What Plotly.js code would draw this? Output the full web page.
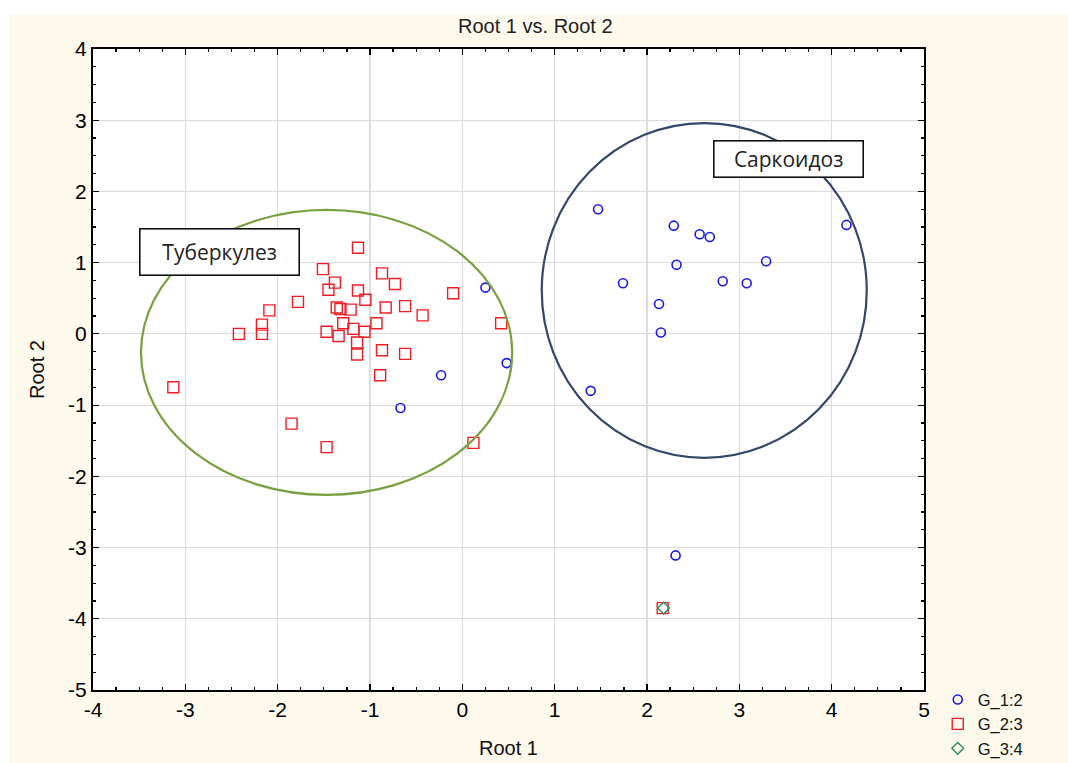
<!DOCTYPE html>
<html>
<head>
<meta charset="utf-8">
<script src="https://cdn.plot.ly/plotly-3.0.1.min.js"></script>
<style>
html,body{margin:0;padding:0;background:#ffffff;}
#chart{position:absolute;left:9px;top:15px;width:1059px;height:748px;}
</style>
</head>
<body>
<div id="chart"></div>
<script>
// Group G_1:2 (blue circles)
const g1x = [0.25, 0.48, -0.23, -0.67, 1.47, 2.29, 2.57, 2.68, 4.16, 2.32, 3.29, 1.74, 2.82, 3.08, 2.13, 2.15, 1.39, 2.31];
const g1y = [0.65, -0.41, -0.58, -1.04, 1.75, 1.52, 1.40, 1.36, 1.53, 0.97, 1.02, 0.71, 0.74, 0.71, 0.42, 0.02, -0.80, -3.11];
// Group G_2:3 (red squares)
const g2x = [-1.13, -1.51, -0.87, -1.38, -1.45, -0.73, -1.13, -0.10, -1.78, -1.05, -2.09, -1.36, -1.32, -1.21, -0.83, -0.62, -0.43, -2.17, -1.29, -0.93, 0.42, -2.42, -2.17, -1.47, -1.34, -1.18, -1.06, -1.14, -1.14, -0.87, -0.62, -0.89, -3.13, -1.85, -1.47, 0.12, 2.17];
const g2y = [1.21, 0.91, 0.85, 0.72, 0.62, 0.70, 0.61, 0.57, 0.45, 0.48, 0.33, 0.37, 0.35, 0.34, 0.37, 0.39, 0.26, 0.13, 0.15, 0.15, 0.15, 0.00, 0.00, 0.03, -0.03, 0.07, 0.03, -0.12, -0.29, -0.23, -0.28, -0.58, -0.75, -1.26, -1.59, -1.53, -3.85];
// Group G_3:4 (green diamond)
const g3x = [2.18];
const g3y = [-3.85];

// Group ellipses: [x0, x1, y0, y1]
const tbEllipse = [-3.48, 0.54, -2.26, 1.74];
const skEllipse = [0.86, 4.38, -1.74, 2.96];

const labelText = ['Туберкулез', 'Саркоидоз'];
const labelX = [-2.63, 3.53];
const labelY = [1.15, 2.46];

const seriesNames = ['G_1:2', 'G_2:3', 'G_3:4'];
const xTickVals = [-4, -3, -2, -1, 0, 1, 2, 3, 4, 5];
const yTickVals = [-5, -4, -3, -2, -1, 0, 1, 2, 3, 4];
const xTickText = xTickVals.map(String);
const yTickText = yTickVals.map(String);

const narrow = '"Liberation Sans Narrow", "Liberation Sans", Arial, sans-serif';
const tickFont = {family: narrow, size: 21, color: '#000'};

const traces = [
  {x: g1x, y: g1y, name: seriesNames[0], type: 'scatter', mode: 'markers',
   marker: {symbol: 'circle-open', size: 9, color: '#1a1ae6', line: {width: 1.6}}},
  {x: g2x, y: g2y, name: seriesNames[1], type: 'scatter', mode: 'markers',
   marker: {symbol: 'square-open', size: 11, color: '#f01c24', line: {width: 1.4}}},
  {x: g3x, y: g3y, name: seriesNames[2], type: 'scatter', mode: 'markers',
   marker: {symbol: 'diamond-open', size: 9, color: '#2e8b57', line: {width: 1.4}}}
];

const axisCommon = {
  showline: true, linecolor: '#000', linewidth: 2, mirror: 'ticks',
  ticks: 'inside', ticklen: 6, tickwidth: 1.2, tickcolor: '#000',
  showgrid: true, gridcolor: '#dcdcdc', gridwidth: 1.2,
  zeroline: false, tickmode: 'array', tickfont: tickFont, automargin: false,
  minor: {ticks: 'inside', ticklen: 3, tickcolor: '#000', dtick: 0.25, showgrid: false}
};

const layout = {
  width: 1059, height: 748,
  paper_bgcolor: '#fdf9ed', plot_bgcolor: '#ffffff',
  margin: {l: 84, r: 144, t: 34, b: 73},
  title: {text: 'Root 1 vs. Root 2', x: 0.497, xref: 'container', xanchor: 'center', y: 0.994, yref: 'container', yanchor: 'top',
          font: {family: narrow, size: 20, color: '#222'}},
  xaxis: Object.assign({}, axisCommon, {range: [-4, 5], tickvals: xTickVals, ticktext: xTickText,
    title: {text: 'Root 1', standoff: 21, font: {family: narrow, size: 20, color: '#111'}}}),
  yaxis: Object.assign({}, axisCommon, {range: [-5, 4], tickvals: yTickVals, ticktext: yTickText,
    title: {text: 'Root 2', standoff: 18, font: {family: narrow, size: 20, color: '#111'}}}),
  showlegend: true,
  legend: {x: 0.877, y: 0.108, xref: 'container', yref: 'container', xanchor: 'left', yanchor: 'top', bgcolor: 'rgba(0,0,0,0)',
           font: {family: narrow, size: 16.5, color: '#111'},
           itemwidth: 30, tracegroupgap: 0},
  shapes: [
    {type: 'circle', xref: 'x', yref: 'y', x0: tbEllipse[0], x1: tbEllipse[1], y0: tbEllipse[2], y1: tbEllipse[3],
     line: {color: '#78a040', width: 2.2}, layer: 'above'},
    {type: 'circle', xref: 'x', yref: 'y', x0: skEllipse[0], x1: skEllipse[1], y0: skEllipse[2], y1: skEllipse[3],
     line: {color: '#34476a', width: 2.2}, layer: 'above'}
  ],
  annotations: labelText.map((t, i) => ({
    x: labelX[i], y: labelY[i], xref: 'x', yref: 'y', text: t, showarrow: false,
    font: {family: '"Open Sans", "Noto Sans", sans-serif', size: 21, color: '#222'},
    bgcolor: '#ffffff', bordercolor: '#111', borderwidth: 1.6, borderpad: 0,
    width: i === 0 ? 158 : 148, height: i === 0 ? 45 : 35
  }))
};

Plotly.newPlot('chart', traces, layout, {displayModeBar: false, staticPlot: true});
</script>
</body>
</html>
